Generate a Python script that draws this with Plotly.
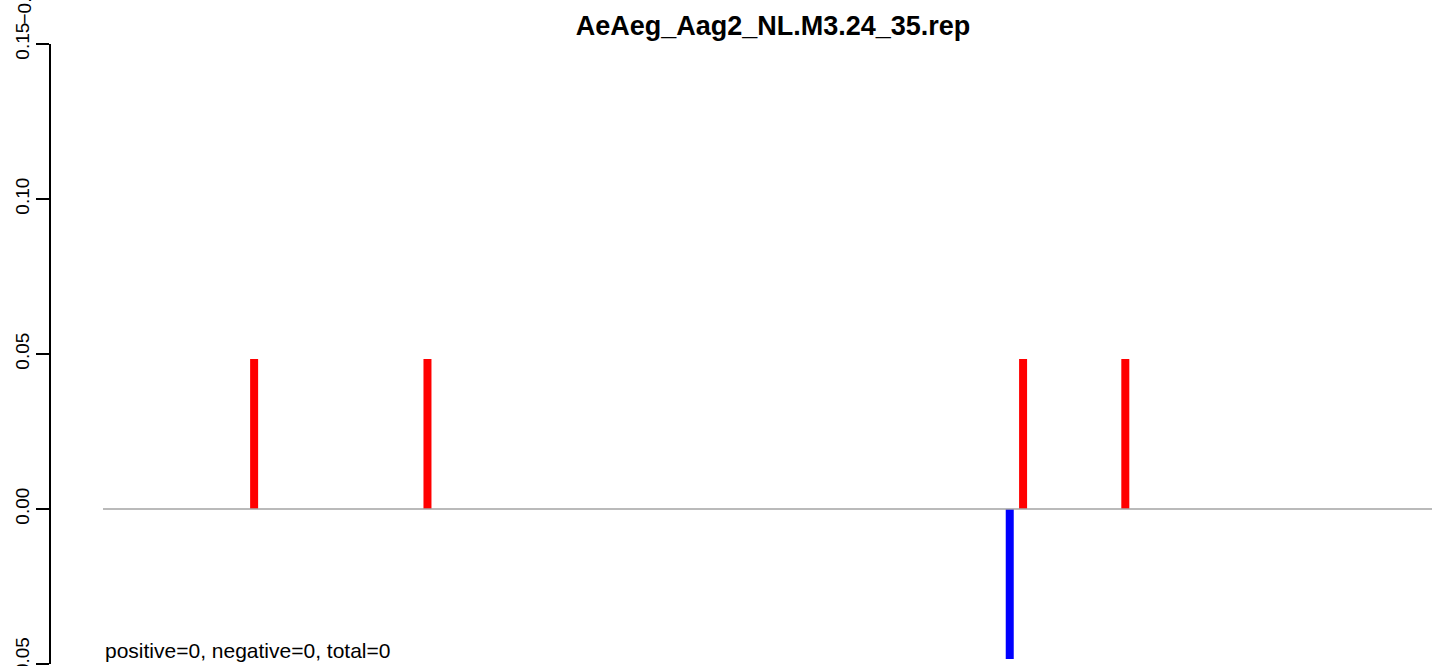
import plotly.graph_objects as go

# ---- data ----
title_text = "AeAeg_Aag2_NL.M3.24_35.rep"
pos_positions = [35, 74, 208, 231]
pos_values = [0.0484, 0.0484, 0.0484, 0.0484]
neg_positions = [205]
neg_values = [-0.0484]
baseline_x = [1, 300]
baseline_y = [0, 0]
ytick_vals = [-0.05, 0.0, 0.05, 0.10, 0.15]
ytick_text = ["\u22120.05", "0.00", "0.05", "0.10", "0.15"]
summary_text = "positive=0, negative=0, total=0"

W, H = 1439, 666
ML, MR, MT, MB = 51, 0, 44, 2
plot_w = W - ML - MR
k = (1432 - 103) / (baseline_x[1] - baseline_x[0])
x0 = baseline_x[0] - (103 - ML) / k
x1 = x0 + plot_w / k
bar_w = 8 / k

fig = go.Figure()
fig.add_trace(go.Scatter(x=baseline_x, y=baseline_y, mode="lines",
                         line=dict(color="#A3A3A3", width=1.6),
                         hoverinfo="skip", showlegend=False))
fig.add_trace(go.Bar(x=pos_positions, y=pos_values, width=bar_w,
                     marker=dict(color="#FF0000", line=dict(width=0)),
                     showlegend=False))
fig.add_trace(go.Bar(x=neg_positions, y=neg_values, width=bar_w,
                     marker=dict(color="#0000FF", line=dict(width=0)),
                     showlegend=False))

font_family = "Liberation Sans, Arial, Helvetica, sans-serif"

fig.update_layout(
    width=W, height=H,
    margin=dict(l=ML, r=MR, t=MT, b=MB, pad=0),
    paper_bgcolor="white", plot_bgcolor="white",
    barmode="overlay",
    font=dict(family=font_family, color="black", size=19),
    title=dict(text="<b>" + title_text + "</b>", x=773 / W, xanchor="center",
               y=1 - 26 / H, yanchor="middle", yref="container",
               font=dict(size=27, family=font_family, color="black")),
    xaxis=dict(range=[x0, x1], visible=False, showgrid=False, zeroline=False),
    yaxis=dict(range=[-0.05, 0.15], tickvals=ytick_vals, ticktext=ytick_text,
               tickangle=-90, ticks="outside", ticklen=13, tickwidth=1.5,
               tickcolor="black", showline=True, linecolor="black", linewidth=1.5,
               showgrid=False, zeroline=False, automargin=False,
               ticklabeloverflow="allow",
               tickfont=dict(size=19, family=font_family, color="black")),
    annotations=[
        dict(text=summary_text, xref="x", yref="y", x=baseline_x[0], y=-0.0458,
             xanchor="left", yanchor="middle", showarrow=False,
             font=dict(size=21, family=font_family, color="black")),
        dict(text="\u22120.05", xref="paper", yref="paper",
             x=(23.5 - ML) / plot_w, y=(H - MB - 1) / (H - MT - MB),
             xanchor="center", yanchor="middle", textangle=-90, showarrow=False,
             font=dict(size=19, family=font_family, color="black")),
    ],
)

fig.write_html("out.html", config={"displayModeBar": False},
               post_script="document.body.style.margin='0';document.body.style.overflow='hidden';")
